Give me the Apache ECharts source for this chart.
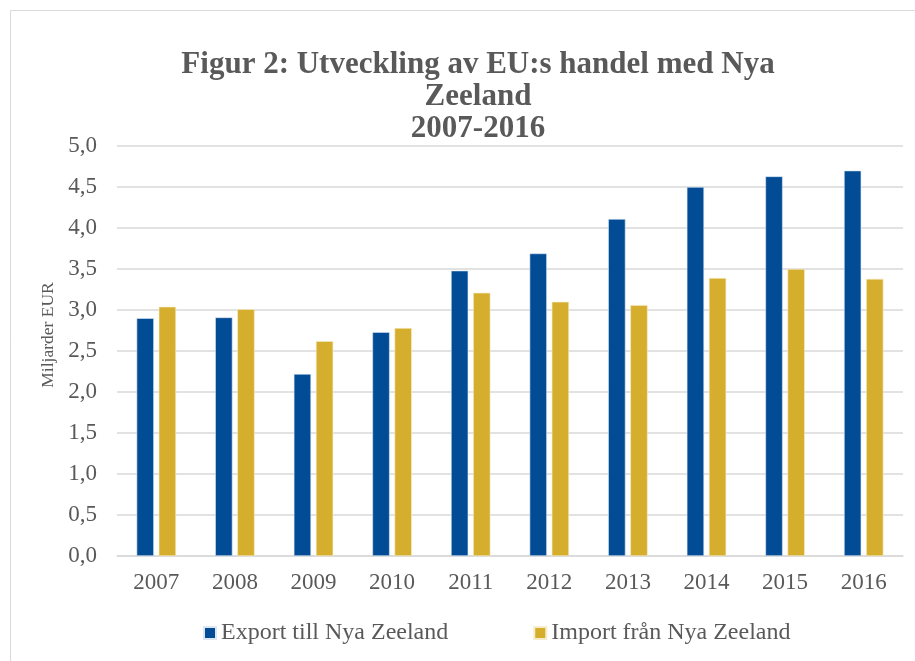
<!DOCTYPE html>
<html>
<head>
<meta charset="utf-8">
<script src="https://cdn.jsdelivr.net/npm/echarts@6/dist/echarts.min.js"></script>
<style>
  html, body { margin: 0; padding: 0; background: #fff; }
  #chart { width: 915px; height: 661px; }
</style>
</head>
<body>
<div id="chart"></div>
<script>
// Figur 2: EU:s handel med Nya Zeeland, miljarder EUR
const years = ['2007', '2008', '2009', '2010', '2011', '2012', '2013', '2014', '2015', '2016']
const exportData = [2.90, 2.91, 2.22, 2.73, 3.48, 3.69, 4.11, 4.50, 4.63, 4.70]
const importData = [3.04, 3.01, 2.62, 2.78, 3.21, 3.10, 3.06, 3.39, 3.50, 3.38]
const yTicks = { min: 0, max: 5, step: 0.5 }

const textColor = '#595959'
const serif = '"Liberation Serif", "Times New Roman", serif'

const chart = echarts.init(document.getElementById('chart'))
chart.setOption({
  animation: false,
  textStyle: { fontFamily: serif },
  graphic: [{
    // ram runt diagrammet
    type: 'rect',
    shape: { x: 10.5, y: 10.5, width: 940, height: 700 },
    style: { fill: 'none', stroke: '#d9d9d9', lineWidth: 1 },
    silent: true
  }],
  title: {
    text: 'Figur 2: Utveckling av EU:s handel med Nya\nZeeland\n2007-2016',
    left: 473,
    top: 44,
    textAlign: 'center',
    textStyle: {
      fontFamily: serif,
      fontWeight: 'bold',
      fontSize: 31,
      lineHeight: 32,
      color: textColor
    }
  },
  legend: {
    left: 198,
    top: 616,
    itemWidth: 12,
    itemHeight: 12,
    itemGap: 85,
    icon: 'rect',
    textStyle: { fontFamily: serif, fontSize: 24, color: textColor },
    data: ['Export till Nya Zeeland', 'Import från Nya Zeeland']
  },
  grid: {
    left: 117,
    right: 12,
    top: 146,
    bottom: 105
  },
  xAxis: {
    type: 'category',
    data: years,
    axisTick: { show: false },
    axisLine: { lineStyle: { color: '#d9d9d9', width: 1.5 } },
    axisLabel: { fontFamily: serif, fontSize: 23, color: textColor, margin: 15 }
  },
  yAxis: {
    type: 'value',
    min: yTicks.min,
    max: yTicks.max,
    interval: yTicks.step,
    name: 'Miljarder EUR',
    nameLocation: 'middle',
    nameGap: 59,
    nameTextStyle: { fontFamily: serif, fontSize: 17.5, color: textColor, padding: [0, 0, 0, 32] },
    axisLine: { show: false },
    axisTick: { show: false },
    splitLine: { lineStyle: { color: '#d9d9d9', width: 1.5 } },
    axisLabel: {
      fontFamily: serif,
      fontSize: 23,
      color: textColor,
      margin: 20,
      formatter: v => v.toFixed(1).replace('.', ',')
    }
  },
  series: [
    {
      name: 'Export till Nya Zeeland',
      type: 'bar',
      data: exportData,
      barWidth: '22%',
      barGap: '28%',
      itemStyle: { color: '#024c96', borderColor: '#dbe6f2', borderWidth: 0.6 }
    },
    {
      name: 'Import från Nya Zeeland',
      type: 'bar',
      data: importData,
      barWidth: '22%',
      itemStyle: { color: '#d6ae2d', borderColor: '#f6eccb', borderWidth: 0.6 }
    }
  ]
})
</script>
</body>
</html>
